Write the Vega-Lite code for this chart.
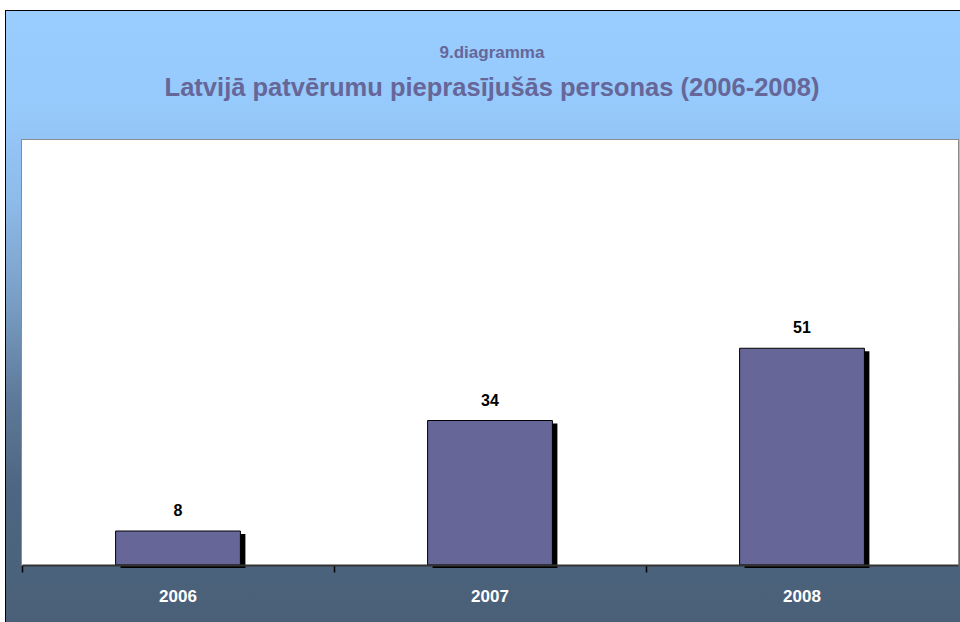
{
  "$schema": "https://vega.github.io/schema/vega-lite/v6.json",
  "width": 954,
  "height": 611,
  "autosize": "none",
  "padding": {"left": 6, "top": 11, "right": 0, "bottom": 0},
  "background": "white",
  "config": {
    "view": {"stroke": "black", "strokeWidth": 2},
    "font": "Liberation Sans, Arial, sans-serif"
  },
  "title": {
    "text": "9.diagramma",
    "subtitle": "Latvijā patvērumu pieprasījušās personas (2006-2008)",
    "orient": "top",
    "anchor": "middle",
    "frame": "group",
    "offset": -91,
    "dx": 9,
    "font": "Liberation Sans, Arial, sans-serif",
    "fontSize": 17,
    "fontWeight": "bold",
    "color": "#666699",
    "subtitleFont": "Liberation Sans, Arial, sans-serif",
    "subtitleFontSize": 25.5,
    "subtitleFontWeight": "bold",
    "subtitleColor": "#666699",
    "subtitlePadding": 14
  },
  "data": {
    "values": [
      {"year": "2006", "count": 8},
      {"year": "2007", "count": 34},
      {"year": "2008", "count": 51}
    ]
  },
  "layer": [
    {
      "data": {"values": [{}]},
      "mark": {
        "type": "rect",
        "strokeWidth": 0,
        "fill": {
          "gradient": "linear",
          "x1": 0, "y1": 0, "x2": 0, "y2": 1,
          "stops": [
            {"offset": 0, "color": "#99CCFF"},
            {"offset": 0.15, "color": "#97CAFC"},
            {"offset": 0.31, "color": "#8DBBEA"},
            {"offset": 0.47, "color": "#7A9FC6"},
            {"offset": 0.64, "color": "#5D7898"},
            {"offset": 0.78, "color": "#4E6682"},
            {"offset": 1, "color": "#4A6078"}
          ]
        }
      },
      "encoding": {
        "x": {"value": 0},
        "x2": {"value": "width"},
        "y": {"value": 0},
        "y2": {"value": "height"}
      }
    },
    {
      "mark": {"type": "rect", "fill": "white", "stroke": "#8C8C8C", "strokeWidth": 2},
      "encoding": {
        "x": {
          "field": "year", "type": "nominal",
          "scale": {"type": "band", "domain": ["2006", "2007", "2008"], "range": [16, 952], "paddingInner": 0, "paddingOuter": 0},
          "axis": {
            "title": null,
            "orient": "bottom",
            "offset": -57,
            "zindex": 1,
            "labelAngle": 0,
            "grid": false,
            "domainColor": "#333333",
            "domainWidth": 2,
            "ticks": true,
            "tickColor": "black",
            "tickWidth": 1.5,
            "tickSize": 7,
            "bandPosition": 0,
            "labelColor": "white",
            "labelFont": "Liberation Sans, Arial, sans-serif",
            "labelFontSize": 17,
            "labelFontWeight": "bold",
            "labelBaseline": "top",
            "labelPadding": 16
          }
        },
        "y": {"datum": 100, "type": "quantitative", "scale": {"domain": [0, 100], "range": [554, 129], "nice": false, "zero": true}, "axis": null},
        "y2": {"datum": 0}
      }
    },
    {
      "mark": {"type": "rect", "fill": "white", "strokeWidth": 0},
      "encoding": {
        "x": {"field": "year", "type": "nominal"},
        "y": {"datum": 100, "type": "quantitative", "axis": null},
        "y2": {"datum": 0}
      }
    },
    {
      "mark": {"type": "bar", "fill": "black", "width": {"band": 0.4}, "xOffset": 5, "yOffset": 3},
      "encoding": {
        "x": {"field": "year", "type": "nominal"},
        "y": {"field": "count", "type": "quantitative", "axis": null}
      }
    },
    {
      "mark": {"type": "bar", "fill": "#666699", "stroke": "black", "strokeWidth": 1, "width": {"band": 0.4}},
      "encoding": {
        "x": {"field": "year", "type": "nominal"},
        "y": {"field": "count", "type": "quantitative", "axis": null}
      }
    },
    {
      "mark": {
        "type": "text",
        "color": "black",
        "font": "Liberation Sans, Arial, sans-serif",
        "fontSize": 16,
        "fontWeight": "bold",
        "baseline": "alphabetic",
        "dy": -15
      },
      "encoding": {
        "x": {"field": "year", "type": "nominal"},
        "y": {"field": "count", "type": "quantitative", "axis": null},
        "text": {"field": "count", "type": "quantitative"}
      }
    }
  ]
}
